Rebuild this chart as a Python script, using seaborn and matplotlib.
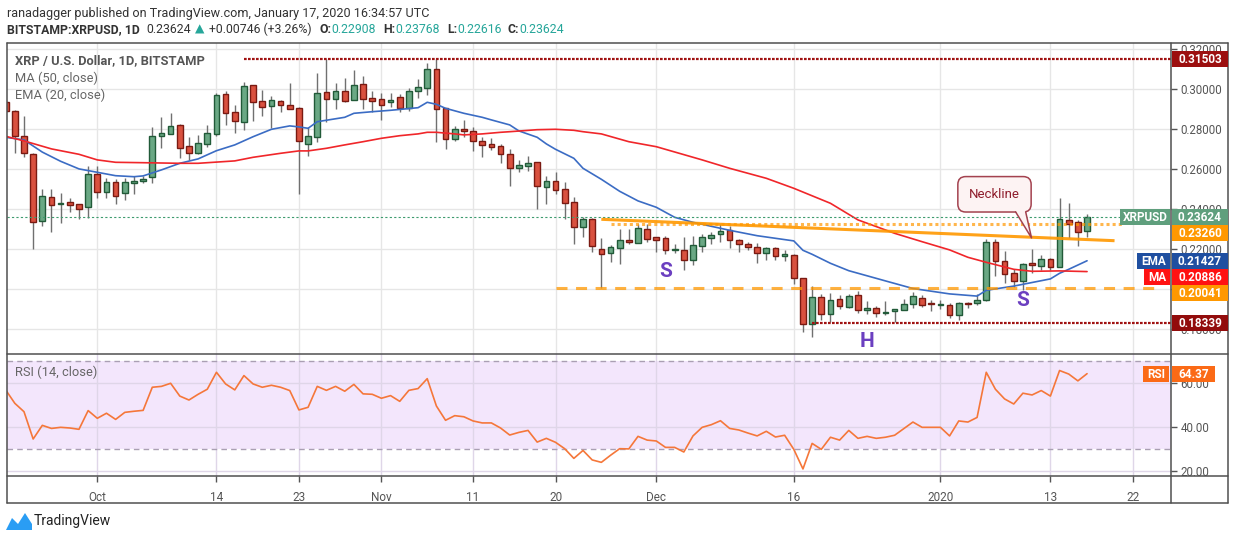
import numpy as np
import pandas as pd
import seaborn as sns
import matplotlib
matplotlib.use("Agg")
from matplotlib import pyplot as plt
from matplotlib.patches import Rectangle, Polygon
from matplotlib.lines import Line2D
from matplotlib.transforms import IdentityTransform
from matplotlib.ticker import FixedFormatter
import matplotlib.dates as mdates

# ---- data (XRP/USD daily, Bitstamp) ----
start = pd.Timestamp("2019-09-21")
dates = pd.date_range(start, periods=119, freq="D")

opens = [0.2938, 0.2892, 0.2767, 0.2675, 0.2342, 0.2460, 0.2427, 0.2435, 0.2425, 0.2410,
         0.2575, 0.2485, 0.2535, 0.2480, 0.2530, 0.2540, 0.2560, 0.2765, 0.2775, 0.2820,
         0.2717, 0.2680, 0.2725, 0.2775, 0.2975, 0.2885, 0.2835, 0.3020, 0.2940, 0.2918,
         0.2940, 0.2920, 0.2905, 0.2728, 0.2763, 0.2985, 0.2950, 0.2990, 0.2947, 0.3025,
         0.2955, 0.2950, 0.2937, 0.2960, 0.2905, 0.2993, 0.3008, 0.3100, 0.2905, 0.2753,
         0.2800, 0.2790, 0.2740, 0.2725, 0.2715, 0.2675, 0.2605, 0.2618, 0.2635, 0.2513,
         0.2540, 0.2500, 0.2435, 0.2310, 0.2350, 0.2203, 0.2180, 0.2208, 0.2245, 0.2230,
         0.2300, 0.2260, 0.2255, 0.2195, 0.2195, 0.2145, 0.2215, 0.2255, 0.2275, 0.2295,
         0.2245, 0.2225, 0.2210, 0.2183, 0.2205, 0.2165, 0.2170, 0.2055, 0.1825, 0.1960,
         0.1875, 0.1950, 0.1913, 0.1972, 0.1897, 0.1907, 0.1880, 0.1891, 0.1897, 0.1928,
         0.1958, 0.1927, 0.1923, 0.1922, 0.1871, 0.1931, 0.1930, 0.1946, 0.2236, 0.2140,
         0.2080, 0.2040, 0.2131, 0.2114, 0.2154, 0.2112, 0.2344, 0.2339, 0.22908]
highs = [0.2945, 0.2897, 0.2867, 0.2680, 0.2500, 0.2500, 0.2480, 0.2458, 0.2428, 0.2618,
         0.2617, 0.2555, 0.2552, 0.2558, 0.2567, 0.2567, 0.2813, 0.2863, 0.2883, 0.2827,
         0.2760, 0.2772, 0.2822, 0.2983, 0.2992, 0.2922, 0.3037, 0.3020, 0.2997, 0.2968,
         0.2947, 0.3032, 0.2913, 0.2810, 0.3082, 0.3150, 0.3032, 0.3058, 0.3097, 0.3067,
         0.2992, 0.2983, 0.2980, 0.2975, 0.3005, 0.3052, 0.3130, 0.3150, 0.2905, 0.2817,
         0.2847, 0.2813, 0.2762, 0.2755, 0.2727, 0.2700, 0.2647, 0.2667, 0.2635, 0.2567,
         0.2585, 0.2535, 0.2462, 0.2363, 0.2355, 0.2255, 0.2222, 0.2300, 0.2300, 0.2325,
         0.2325, 0.2262, 0.2267, 0.2225, 0.2262, 0.2267, 0.2275, 0.2285, 0.2325, 0.2315,
         0.2253, 0.2238, 0.2230, 0.2210, 0.2210, 0.2195, 0.2175, 0.2055, 0.2016, 0.1978,
         0.1982, 0.1970, 0.1977, 0.1990, 0.1943, 0.1918, 0.1943, 0.1902, 0.1953, 0.1985,
         0.1973, 0.1948, 0.1948, 0.1930, 0.1936, 0.1936, 0.1974, 0.2252, 0.2254, 0.2190,
         0.2100, 0.2129, 0.2199, 0.2171, 0.2154, 0.2457, 0.2432, 0.2344, 0.23768]
lows = [0.2885, 0.2680, 0.2660, 0.2203, 0.2318, 0.2288, 0.2333, 0.2388, 0.2350, 0.2358,
        0.2455, 0.2455, 0.2425, 0.2447, 0.2475, 0.2533, 0.2533, 0.2708, 0.2775, 0.2655,
        0.2647, 0.2675, 0.2713, 0.2768, 0.2822, 0.2783, 0.2797, 0.2843, 0.2868, 0.2808,
        0.2888, 0.2903, 0.2475, 0.2668, 0.2738, 0.2838, 0.2900, 0.2938, 0.2945, 0.2900,
        0.2885, 0.2847, 0.2913, 0.2885, 0.2893, 0.2955, 0.2972, 0.2738, 0.2702, 0.2742,
        0.2760, 0.2692, 0.2662, 0.2697, 0.2633, 0.2518, 0.2588, 0.2593, 0.2403, 0.2427,
        0.2478, 0.2353, 0.2225, 0.2263, 0.2188, 0.2005, 0.2138, 0.2125, 0.2225, 0.2230,
        0.2238, 0.2188, 0.2175, 0.2180, 0.2098, 0.2120, 0.2188, 0.2228, 0.2237, 0.2208,
        0.2188, 0.2195, 0.2133, 0.2148, 0.2145, 0.2143, 0.2025, 0.1788, 0.1760, 0.1846,
        0.1838, 0.1902, 0.1907, 0.1882, 0.1875, 0.1861, 0.1870, 0.1837, 0.1897, 0.1905,
        0.1911, 0.1892, 0.1900, 0.1854, 0.1846, 0.1904, 0.1922, 0.1940, 0.2066, 0.2032,
        0.2011, 0.1997, 0.2083, 0.2094, 0.2094, 0.2112, 0.2257, 0.2219, 0.22616]
closes = [0.2893, 0.2767, 0.2680, 0.2338, 0.2467, 0.2422, 0.2430, 0.2423, 0.2403, 0.2575,
          0.2485, 0.2535, 0.2468, 0.2535, 0.2542, 0.2552, 0.2765, 0.2782, 0.2817, 0.2708,
          0.2680, 0.2730, 0.2780, 0.2970, 0.2880, 0.2840, 0.3015, 0.2938, 0.2913, 0.2945,
          0.2923, 0.2903, 0.2740, 0.2765, 0.2982, 0.2950, 0.2990, 0.2943, 0.3022, 0.2950,
          0.2943, 0.2920, 0.2945, 0.2905, 0.2990, 0.3010, 0.3100, 0.2900, 0.2753, 0.2800,
          0.2790, 0.2740, 0.2720, 0.2713, 0.2675, 0.2605, 0.2620, 0.2630, 0.2518, 0.2540,
          0.2498, 0.2430, 0.2310, 0.2350, 0.2215, 0.2175, 0.2210, 0.2245, 0.2235, 0.2305,
          0.2253, 0.2248, 0.2195, 0.2197, 0.2145, 0.2220, 0.2260, 0.2270, 0.2290, 0.2245,
          0.2225, 0.2210, 0.2183, 0.2205, 0.2165, 0.2175, 0.2055, 0.1825, 0.1960, 0.1875,
          0.1948, 0.1918, 0.1966, 0.1897, 0.1907, 0.1880, 0.1887, 0.1902, 0.1928, 0.1968,
          0.1921, 0.1925, 0.1927, 0.1871, 0.1930, 0.1926, 0.1948, 0.2236, 0.2140, 0.2074,
          0.2040, 0.2124, 0.2120, 0.2149, 0.2112, 0.2349, 0.2327, 0.2287, 0.23624]

# EMA(20) and MA(50) (day offsets from start)
ema_days = [0, 2, 4, 6, 8, 10, 12, 14, 15, 17, 19, 21, 23, 25, 27, 29, 31, 32, 33, 34,
            37, 38, 40, 42, 45, 46, 47, 48, 50, 52, 53, 55, 56, 58, 59, 60, 62, 63, 65, 67,
            69, 71, 73, 75, 79, 82, 86, 87, 88, 90, 92, 96, 99, 103, 106, 107, 110, 114,
            115, 116, 118]
ema_vals = [0.2760, 0.2747, 0.2686, 0.2640, 0.2602, 0.2585, 0.2568, 0.2563, 0.2567, 0.2597,
            0.2630, 0.2652, 0.2693, 0.2722, 0.2763, 0.2800, 0.2817, 0.2812, 0.2805, 0.2838,
            0.2860, 0.2880, 0.2888, 0.2895, 0.2908, 0.2935, 0.2925, 0.2905, 0.2880, 0.2860,
            0.2847, 0.2822, 0.2792, 0.2760, 0.2727, 0.2700, 0.2655, 0.2605, 0.2550, 0.2490,
            0.2442, 0.2410, 0.2360, 0.2335, 0.2295, 0.2268, 0.2242, 0.2195, 0.2175, 0.2130,
            0.2093, 0.2042, 0.2004, 0.1977, 0.1966, 0.1995, 0.2016, 0.2052, 0.2080, 0.2100,
            0.21427]
ma_days = [0, 2, 5, 8, 10, 12, 15, 19, 21, 25, 27, 30, 32, 33, 35, 37, 39, 41, 43, 45,
           46, 47, 49, 50, 52, 54, 55, 58, 60, 62, 63, 65, 68, 71, 76, 79, 83, 86, 90, 93,
           97, 100, 103, 105, 107, 110, 112, 115, 118]
ma_vals = [0.2765, 0.2742, 0.2702, 0.2675, 0.2647, 0.2635, 0.2633, 0.2630, 0.2630, 0.2642,
           0.2660, 0.2680, 0.2692, 0.2692, 0.2705, 0.2722, 0.2738, 0.2755, 0.2768, 0.2777,
           0.2785, 0.2785, 0.2777, 0.2772, 0.2777, 0.2785, 0.2788, 0.2798, 0.2800, 0.2795,
           0.2788, 0.2777, 0.2738, 0.2713, 0.2647, 0.2605, 0.2555, 0.2505, 0.2430, 0.2347,
           0.2280, 0.2238, 0.2197, 0.2160, 0.2135, 0.2100, 0.2090, 0.2092, 0.20886]

rsi = [57.0, 50.9, 47.1, 34.7, 40.9, 39.5, 40.0, 39.7, 39.1, 47.6,
       44.1, 46.4, 43.6, 46.8, 47.3, 47.7, 58.2, 58.6, 60.0, 54.2,
       52.4, 55.0, 57.3, 65.0, 59.7, 57.0, 63.5, 59.7, 58.2, 59.1,
       58.2, 56.7, 47.9, 49.1, 58.6, 56.8, 58.6, 56.4, 59.5, 55.2,
       55.0, 53.2, 54.4, 51.8, 56.8, 57.6, 62.1, 49.7, 43.2, 45.3,
       44.8, 42.9, 42.0, 42.0, 39.7, 36.5, 37.7, 38.6, 33.3, 35.0,
       33.2, 30.3, 25.9, 29.5, 25.2, 24.1, 27.3, 30.3, 30.2, 35.9,
       34.2, 33.8, 30.9, 30.9, 28.8, 36.1, 40.0, 41.2, 43.0, 39.5,
       38.8, 37.4, 36.1, 38.2, 35.6, 36.4, 30.0, 21.1, 32.7, 30.0,
       35.5, 34.2, 38.6, 35.0, 35.9, 35.0, 35.5, 36.4, 39.4, 42.4,
       40.0, 40.0, 40.0, 36.1, 42.9, 42.4, 44.5, 65.0, 57.3, 52.9,
       50.6, 55.5, 54.7, 56.7, 54.2, 65.8, 64.2, 61.1, 64.37]

tick_dates = ["2019-10-01", "2019-10-14", "2019-10-23", "2019-11-01", "2019-11-11",
              "2019-11-20", "2019-12-01", "2019-12-16", "2020-01-01", "2020-01-13", "2020-01-22"]
tick_labels = ["Oct", "14", "23", "Nov", "11", "20", "Dec", "16", "2020", "13", "22"]
price_ticks = [0.18, 0.20, 0.22, 0.24, 0.26, 0.28, 0.30, 0.32]
price_labels = ["0.18000", "", "0.22000", "0.24000", "0.26000", "0.28000", "0.30000", "0.32000"]
rsi_ticks = [20, 40, 60]
rsi_labels = ["20.00", "40.00", "60.00"]

# drawn levels / annotations
resist_level, resist_from = 0.31503, "2019-10-17"
support_level, support_from = 0.18339, "2019-12-18"
base_level, base_span = 0.20041, ("2019-11-20", "2020-01-25")
shoulder_level, shoulder_span = 0.23260, ("2019-11-26", "2020-01-21")
neck_dates = ["2019-11-25", "2020-01-20"]
neck_prices = [0.2350, 0.2243]
last_price = 0.23624

W, H = 1234, 540
GREEN, GREEN_EDGE = "#6aa884", "#215a38"
RED, RED_EDGE = "#d9513f", "#7a1a12"
ORANGE = "#ff9800"

sns.set_style("white")
plt.rcParams["font.family"] = ["Roboto", "DejaVu Sans"]

fig = plt.figure(figsize=(W / 100, H / 100), dpi=100, facecolor="white")


def fx(px):
    return px / W


def fy(py):
    return 1 - py / H


ax = fig.add_axes([fx(7), fy(354), fx(1171) - fx(7), fy(43) - fy(354)])
axr = fig.add_axes([fx(7), fy(476), fx(1171) - fx(7), fy(354) - fy(476)], sharex=ax)

x0 = mdates.date2num(start)
xnum = mdates.date2num(dates)


def dn(s):
    return mdates.date2num(pd.Timestamp(s))


df = pd.DataFrame({"x": xnum, "open": opens, "high": highs, "low": lows, "close": closes})
up = df["close"] >= df["open"]

# candles
ax.vlines(df["x"], df["low"], df["high"], color="#707070", lw=1, zorder=3)
body_lo = np.minimum(df["open"], df["close"])
body_h = np.maximum((df["close"] - df["open"]).abs(), 0.0004)
ax.bar(df["x"], body_h, bottom=body_lo, width=0.62,
       color=np.where(up, GREEN, RED), edgecolor=np.where(up, GREEN_EDGE, RED_EDGE),
       linewidth=1, zorder=4)

ema_df = pd.DataFrame({"x": x0 + np.array(ema_days), "v": ema_vals})
ma_df = pd.DataFrame({"x": x0 + np.array(ma_days), "v": ma_vals})
sns.lineplot(data=ema_df, x="x", y="v", ax=ax, color="#3b6cc4", lw=1.2, zorder=5)
sns.lineplot(data=ma_df, x="x", y="v", ax=ax, color="#f0262a", lw=1.2, zorder=5)

xmin, xmax = x0 + 0.146, x0 + 127.16
ax.set_xlim(xmin, xmax)
ax.set_ylim(0.16765, 0.32315)

# levels
ax.plot([dn(resist_from), xmax], [resist_level] * 2, color="#a01212", lw=1.6,
        ls=(0, (1.2, 0.6)), zorder=6)
ax.plot([dn(support_from), xmax], [support_level] * 2, color="#a01212", lw=1.6,
        ls=(0, (1.2, 0.6)), zorder=6)
ax.plot([xmin, xmax], [last_price] * 2, color="#3f9c6f", lw=0.8, ls=(0, (2, 2)), zorder=6)
ax.plot([dn(base_span[0]), dn(base_span[1])], [base_level] * 2, color=ORANGE, lw=2.2,
        alpha=0.75, ls=(0, (3.6, 2.8)), zorder=6)
ax.plot([dn(shoulder_span[0]), dn(shoulder_span[1])], [shoulder_level] * 2, color=ORANGE,
        lw=2.2, alpha=0.7, ls=(0, (1, 1)), zorder=6)
ax.plot([dn(d) for d in neck_dates], neck_prices, color=ORANGE, lw=2.2, alpha=0.9,
        solid_capstyle="butt", zorder=6)

# pattern letters
for d, p, s in [("2019-12-02", 0.2088, "S"), ("2019-12-24", 0.1738, "H"), ("2020-01-10", 0.1942, "S")]:
    ax.text(dn(d), p, s, color="#6b3fc0", fontsize=15, fontweight="bold",
            ha="center", va="center", zorder=8)

# neckline callout
ax.text(x0 + 107.9, 0.2475, "Neckline", ha="center", va="center", fontsize=9.5,
        color="#8f1d2c", zorder=12,
        bbox=dict(boxstyle="round,pad=0.85,rounding_size=0.6", fc="#fdf3f3",
                  ec="#a3424f", lw=1.1))
tail = [(x0 + 110.2, 0.2392), (x0 + 111.3, 0.2392), (x0 + 111.94, 0.2257)]
ax.add_patch(Polygon(tail, closed=True, fc="#fdf3f3", ec="none", zorder=13))
ax.plot([x0 + 110.2, x0 + 111.94, x0 + 111.3], [0.23875, 0.2257, 0.23875],
        color="#a3424f", lw=1.1, zorder=13)

# RSI pane
axr.axhspan(30, 70, color="#f3e6fc", zorder=0, lw=0)
rsi_df = pd.DataFrame({"x": xnum, "rsi": rsi})
sns.lineplot(data=rsi_df, x="x", y="rsi", ax=axr, color="#f5773a", lw=1.2, zorder=5)
for lvl in (30, 70):
    axr.axhline(lvl, color="#aa9fb3", lw=1, ls=(0, (4, 3)), zorder=2)
axr.set_ylim(17.9, 73.3)
axr.set_yticks(rsi_ticks)
axr.yaxis.set_major_formatter(FixedFormatter(rsi_labels))

ax.set_yticks(price_ticks)
ax.yaxis.set_major_formatter(FixedFormatter(price_labels))
axr.set_xticks([dn(t) for t in tick_dates])
axr.set_xticklabels(tick_labels)
ax.set_xlim(xmin, xmax)

for a, gc in ((ax, "#e6e6e6"), (axr, "#dfd6e8")):
    a.set_xlabel("")
    a.set_ylabel("")
    a.set_facecolor("white")
    for sp in a.spines.values():
        sp.set_visible(False)
    a.grid(True, color=gc, lw=1)
    a.set_axisbelow(True)
    a.yaxis.tick_right()
    a.tick_params(axis="y", which="both", right=True, left=False, labelright=True,
                  labelleft=False, length=4, width=1, color="#555555", pad=3,
                  labelsize=8.3, labelcolor="#555555")
ax.tick_params(axis="x", bottom=False, labelbottom=False)
axr.tick_params(axis="x", bottom=True, length=4, width=1, color="#555555", pad=7,
                labelsize=8.5, labelcolor="#555555")

# frame
for (xa, ya, xb, yb) in [(7, 43, 1228, 43), (7, 354, 1228, 354), (7, 476, 1228, 476),
                         (7, 503, 1228, 503), (7, 43, 7, 503), (1228, 43, 1228, 503),
                         (1171, 43, 1171, 503)]:
    fig.add_artist(Line2D([fx(xa), fx(xb)], [fy(ya), fy(yb)], color="#4f4f4f", lw=1.1,
                          transform=fig.transFigure, zorder=9))


# price tags
def tag(xa, xb, yc, text, fc):
    fig.add_artist(Rectangle((xa, H - yc - 8), xb - xa, 16, transform=IdentityTransform(),
                             facecolor=fc, edgecolor="none", zorder=10))
    fig.text(fx((xa + xb) / 2), fy(yc + 0.5), text, ha="center", va="center", color="white",
             fontsize=8.5, fontweight="bold", zorder=11)


def price_px(a, v):
    return H - a.transData.transform((xmin, v))[1]


tag(1172, 1228, price_px(ax, resist_level), "0.31503", "#9c0f0f")
tags = [(last_price, "XRPUSD", 1119.6, "#5f9f7d"),
        (shoulder_level, None, None, ORANGE),
        (0.21427, "EMA", 1137, "#1f4fa0"),
        (0.20886, "MA", 1144, "#ff1212"),
        (base_level, None, None, ORANGE),
        (support_level, None, None, "#920c0c")]
prev = -1e9
for val, name, nx, col in tags:
    yc = max(price_px(ax, val), prev + 16)
    prev = yc
    if name:
        tag(nx, 1170, yc, name, col)
    tag(1172, 1228, yc, f"{val:.5f}", col)
yr = price_px(axr, rsi[-1])
tag(1143, 1169, yr, "RSI", "#fb6a16")
tag(1172, 1215, yr, f"{rsi[-1]:.2f}", "#fb6a16")

# header text
fig.text(fx(7), fy(13.3), "ranadagger published on TradingView.com, January 17, 2020 16:34:57 UTC",
         fontsize=9.1, color="#333333", va="center")
teal = "#26a69a"
pieces = [(7, "BITSTAMP:XRPUSD, 1D", "#333333", "bold"), (146, "0.23624", "#333333", "normal"),
          (195, "\u25b2", teal, "normal"), (209, "+0.00746 (+3.26%)", "#333333", "normal"),
          (319.5, "O:", "#333333", "bold"), (331, "0.22908", teal, "normal"),
          (383.5, "H:", "#333333", "bold"), (395.5, "0.23768", teal, "normal"),
          (447.6, "L:", "#333333", "bold"), (457.5, "0.22616", teal, "normal"),
          (508, "C:", "#333333", "bold"), (519, "0.23624", teal, "normal")]
for px, s, c, w in pieces:
    fig.text(fx(px), fy(29.3), s, fontsize=8.8, color=c, fontweight=w, va="center",
             family=["Roboto", "DejaVu Sans"])

fig.text(fx(15), fy(61), "XRP / U.S. Dollar, 1D, BITSTAMP", fontsize=9.3, color="#555555",
         fontweight="bold", va="center", zorder=12)
fig.text(fx(15), fy(78.3), "MA (50, close)", fontsize=9.3, color="#666666", va="center", zorder=12)
fig.text(fx(15), fy(95), "EMA (20, close)", fontsize=9.3, color="#666666", va="center", zorder=12)
fig.text(fx(15), fy(372), "RSI (14, close)", fontsize=9.3, color="#666666", va="center", zorder=12)

# footer
logo = [(6, 530), (12, 518), (18, 524), (25, 513), (32, 524), (32, 530)]
fig.add_artist(Polygon([(fx(a), fy(b)) for a, b in logo], closed=True, fc="#2a9df4", ec="none",
                       transform=fig.transFigure))
fig.text(fx(34), fy(521.5), "TradingView", fontsize=10, color="#222222", va="center")

fig.savefig("out.png", dpi=100, facecolor="white")
